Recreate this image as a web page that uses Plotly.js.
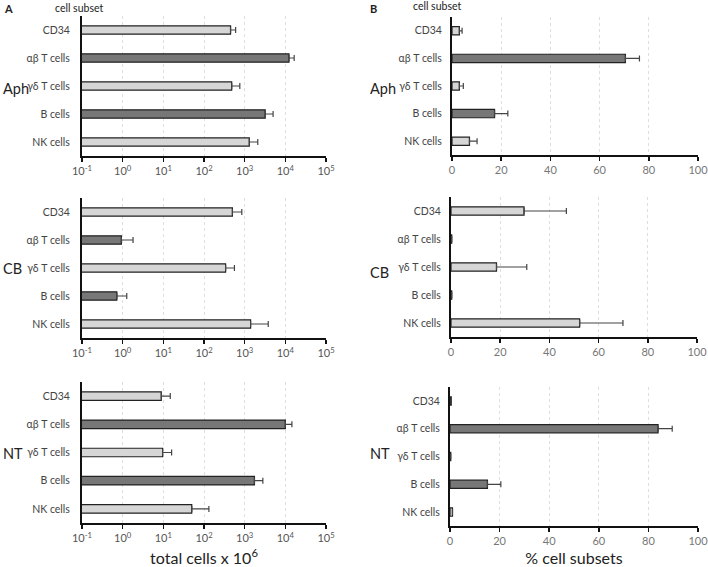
<!DOCTYPE html>
<html>
<head>
<meta charset="utf-8">
<script src="https://cdn.plot.ly/plotly-3.0.1.min.js"></script>
<style>
  html, body { margin: 0; padding: 0; background: #fff; }
  #plot { width: 708px; height: 567px; }
</style>
</head>
<body>
<div id="plot"></div>
<script>
const subsets = ['CD34', 'αβ T cells', 'γδ T cells', 'B cells', 'NK cells'];
const sources = ['Aph', 'CB', 'NT'];

// total cells x 10^6 (mean, upper error end)
const totalAph = [450, 12300, 480, 3200, 1300];
const totalAphErr = [600, 16500, 760, 5000, 2100];
const totalCB = [500, 0.93, 340, 0.72, 1400];
const totalCBErr = [850, 1.8, 560, 1.26, 3800];
const totalNT = [8.9, 10000, 9.6, 1740, 50];
const totalNTErr = [14.8, 14500, 16, 2800, 132];

// % cell subsets (mean, upper error end)
const pctAph = [3.0, 70.5, 3.0, 17.3, 7.1];
const pctAphErr = [4.1, 76.2, 4.6, 22.7, 10.2];
const pctCB = [29.7, 0.3, 18.5, 0.3, 52.3];
const pctCBErr = [46.9, 0.3, 30.8, 0.3, 69.9];
const pctNT = [0.5, 83.9, 0.3, 15.1, 1.0];
const pctNTErr = [0.5, 89.6, 0.3, 20.5, 1.0];

const logTicks = [0.1, 1, 10, 100, 1000, 10000, 100000];
const logTickText = ['10<sup>-1</sup>', '10<sup>0</sup>', '10<sup>1</sup>', '10<sup>2</sup>',
                     '10<sup>3</sup>', '10<sup>4</sup>', '10<sup>5</sup>'];
const pctTicks = [0, 20, 40, 60, 80, 100];

const light = '#d6d6d6';
const dark = '#777777';
const barColors = [light, dark, light, dark, light];
const W = 708, H = 567;

function trace(vals, errs, xa, ya) {
  return {
    type: 'bar',
    orientation: 'h',
    y: subsets,
    x: vals,
    width: 0.3,
    xaxis: xa,
    yaxis: ya,
    marker: { color: barColors, line: { color: '#222', width: 1.2 } },
    error_x: {
      type: 'data',
      symmetric: false,
      array: errs.map((e, i) => e - vals[i]),
      arrayminus: vals.map(() => 0),
      color: '#444',
      thickness: 1.2,
      width: 3
    },
    hoverinfo: 'x+y',
    showlegend: false
  };
}

const data = [
  trace(totalAph, totalAphErr, 'x', 'y'),
  trace(totalCB, totalCBErr, 'x2', 'y2'),
  trace(totalNT, totalNTErr, 'x3', 'y3'),
  trace(pctAph, pctAphErr, 'x4', 'y4'),
  trace(pctCB, pctCBErr, 'x5', 'y5'),
  trace(pctNT, pctNTErr, 'x6', 'y6')
];

const font = { family: 'Lato, "Open Sans", sans-serif', color: '#333' };

function xdom(l, r) { return [l / W, r / W]; }
function ydom(t, b) { return [1 - b / H, 1 - t / H]; }

const grid = { showgrid: true, gridcolor: '#dedede', griddash: '3px,3px', gridwidth: 1 };

function xLog(anchor, dom) {
  return Object.assign({
    domain: dom, anchor: anchor, type: 'log', range: [-1, 5],
    tickvals: logTicks, ticktext: logTickText,
    tickfont: { size: 11, color: '#555' },
    showline: true, linecolor: '#111', linewidth: 2,
    ticks: 'outside', ticklen: 4, tickcolor: '#111', tickwidth: 1.5,
    zeroline: false, fixedrange: true
  }, grid);
}
function xPct(anchor, dom) {
  return Object.assign({
    domain: dom, anchor: anchor, range: [0, 100],
    tickvals: pctTicks,
    tickfont: { size: 11, color: '#777' },
    ticklabeloverflow: 'allow',
    showline: true, linecolor: '#111', linewidth: 2,
    ticks: 'outside', ticklen: 4, tickcolor: '#111', tickwidth: 1.5,
    zeroline: false, fixedrange: true
  }, grid);
}
function yCat(anchor, dom, standoff) {
  return {
    domain: dom, anchor: anchor, type: 'category',
    categoryorder: 'array', categoryarray: subsets,
    range: [4.5, -0.5],
    tickfont: { size: 10.5, color: '#444' },
    showline: true, linecolor: '#111', linewidth: 2,
    ticks: '', ticklabelstandoff: standoff,
    showgrid: false, zeroline: false, fixedrange: true
  };
}

const layout = {
  width: W, height: H,
  margin: { l: 0, r: 0, t: 0, b: 0 },
  paper_bgcolor: '#fff', plot_bgcolor: '#fff',
  font: font,
  bargap: 0,
  xaxis: xLog('y', xdom(82, 326)),
  yaxis: yCat('x', ydom(16, 156), 8),
  xaxis2: xLog('y2', xdom(82, 326)),
  yaxis2: yCat('x2', ydom(198, 338), 8),
  xaxis3: Object.assign(xLog('y3', xdom(82, 326)), {
    title: { text: 'total cells x 10<sup>6</sup>', font: { size: 16, color: '#222' }, standoff: 10 }
  }),
  yaxis3: yCat('x3', ydom(382, 523), 8),
  xaxis4: xPct('y4', xdom(452, 698)),
  yaxis4: yCat('x4', ydom(17, 155), 6),
  xaxis5: xPct('y5', xdom(451, 697)),
  yaxis5: yCat('x5', ydom(197, 337), 6),
  xaxis6: Object.assign(xPct('y6', xdom(450, 698)), {
    title: { text: '% cell subsets', font: { size: 16, color: '#222' }, standoff: 10 }
  }),
  yaxis6: yCat('x6', ydom(387, 526), 6),
  annotations: []
};

function txt(x, y, text, size, extra) {
  layout.annotations.push(Object.assign({
    xref: 'paper', yref: 'paper', x: x / W, y: 1 - y / H,
    text: text, showarrow: false, font: { size: size, color: '#222' },
    xanchor: 'center', yanchor: 'middle'
  }, extra || {}));
}

txt(8, 9, '<b>A</b>', 11);
txt(373, 8, '<b>B</b>', 11);
txt(79, 8, 'cell subset', 10.5);
txt(437, 6, 'cell subset', 10.5);

const leftRowY = [88, 269, 453];
const rightRowY = [89, 272, 453];
sources.forEach((s, i) => {
  txt(1, leftRowY[i], s, 14.5, { xanchor: 'left' });
  txt(368, rightRowY[i], s, 14.5, { xanchor: 'left' });
});

Plotly.newPlot('plot', data, layout, { displayModeBar: false, staticPlot: true });
</script>
</body>
</html>
